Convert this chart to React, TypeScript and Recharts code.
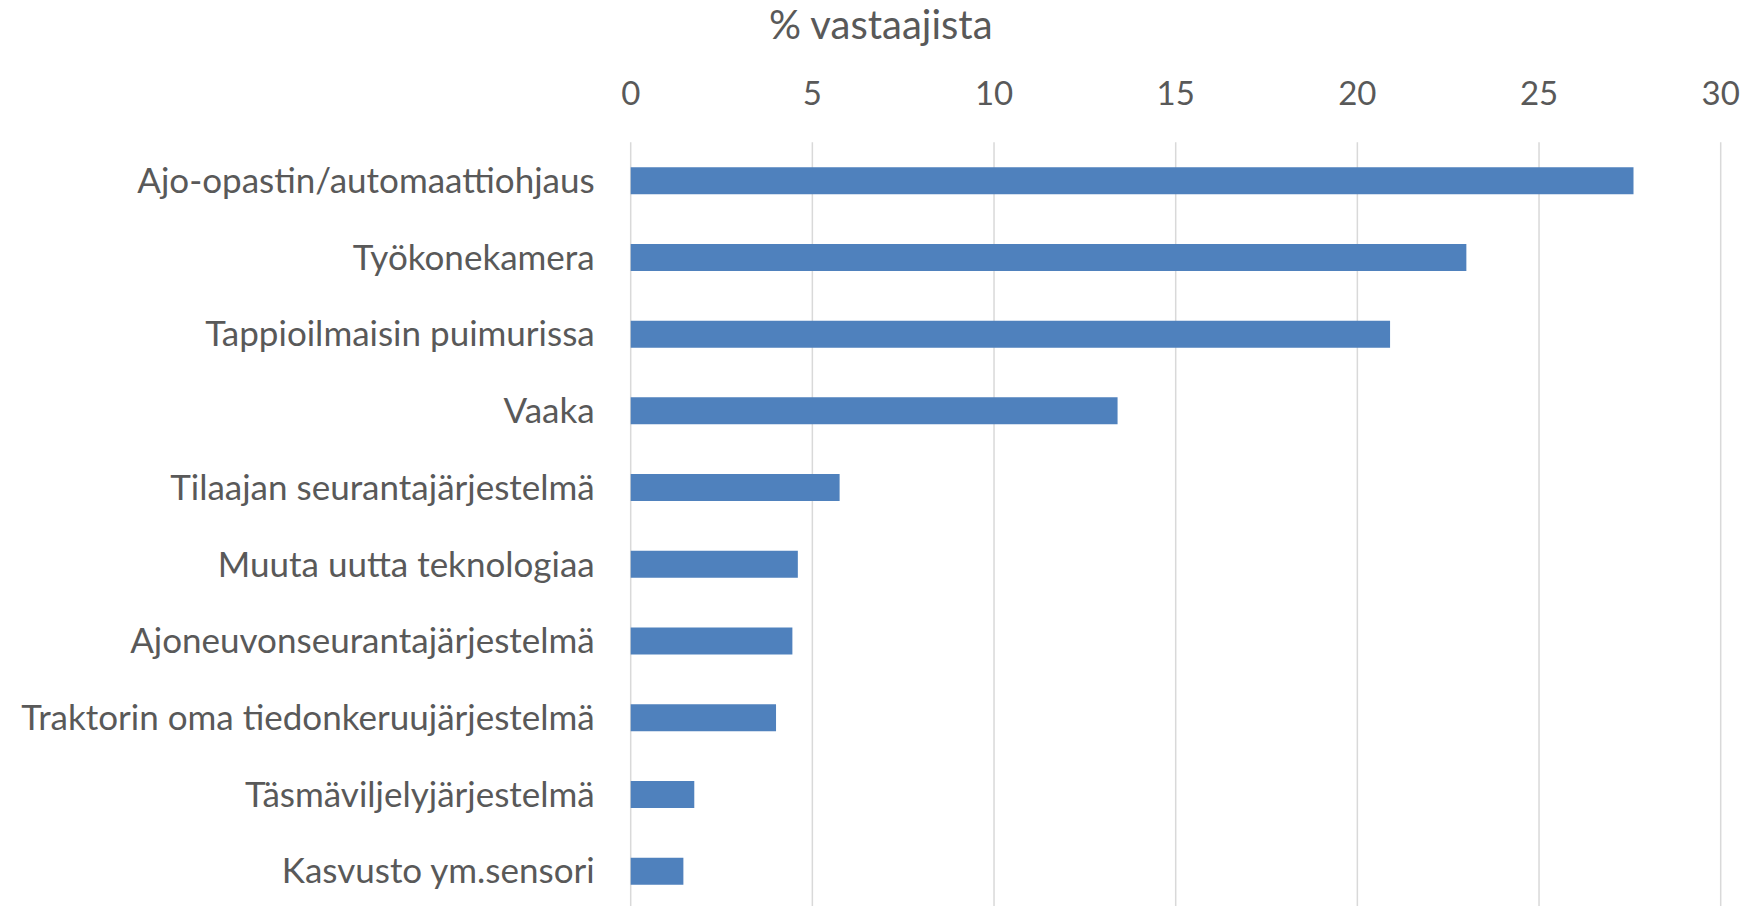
import React from "react";
import { BarChart, Bar, XAxis, YAxis, CartesianGrid } from "recharts";

const categories = [
  "Ajo-opastin/automaattiohjaus",
  "Työkonekamera",
  "Tappioilmaisin puimurissa",
  "Vaaka",
  "Tilaajan seurantajärjestelmä",
  "Muuta uutta teknologiaa",
  "Ajoneuvonseurantajärjestelmä",
  "Traktorin oma tiedonkeruujärjestelmä",
  "Täsmäviljelyjärjestelmä",
  "Kasvusto ym.sensori",
];
const values = [27.6, 23.0, 20.9, 13.4, 5.75, 4.6, 4.45, 4.0, 1.75, 1.45];
const xTicks = [0, 5, 10, 15, 20, 25, 30];
const title = "% vastaajista";

const data = categories.map((name, i) => ({ name, value: values[i] }));

const FONT = "Lato, 'Open Sans', sans-serif";
const TEXT_COLOR = "#595959";

export default function App() {
  return (
    <div
      style={{
        position: "absolute",
        left: 0,
        top: 0,
        width: 1747,
        height: 906,
        overflow: "hidden",
        background: "#ffffff",
      }}
    >
      <div
        style={{
          position: "absolute",
          left: 769,
          top: 0,
          fontFamily: FONT,
          fontSize: 40,
          color: TEXT_COLOR,
          lineHeight: "normal",
          whiteSpace: "nowrap",
        }}
      >
        {title}
      </div>
      <BarChart
        width={1747}
        height={910}
        data={data}
        layout="vertical"
        margin={{ top: 82.2, right: 26.3, bottom: 0.6, left: 0 }}
      >
        <CartesianGrid
          horizontal={false}
          vertical={true}
          stroke="#D9D9D9"
          strokeWidth={1.5}
        />
        <XAxis
          type="number"
          orientation="top"
          domain={[0, 30]}
          ticks={xTicks}
          height={60}
          axisLine={false}
          tickLine={false}
          tickSize={0}
          tickMargin={37}
          tick={{ fill: TEXT_COLOR, fontSize: 33, fontFamily: FONT }}
        />
        <YAxis
          type="category"
          dataKey="name"
          width={630.7}
          axisLine={false}
          tickLine={false}
          tickSize={0}
          tickMargin={36}
          interval={0}
          tick={{ fill: TEXT_COLOR, fontSize: 35, fontFamily: FONT }}
        />
        <Bar
          dataKey="value"
          fill="#4F81BD"
          barSize={27}
          isAnimationActive={false}
        />
      </BarChart>
    </div>
  );
}
